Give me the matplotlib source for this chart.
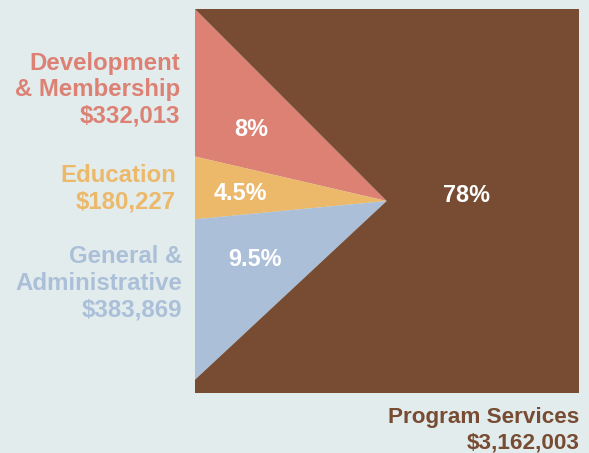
import matplotlib
matplotlib.use("Agg")
import matplotlib.pyplot as plt

# ---- data ----
categories = ["Development & Membership", "Education", "General & Administrative", "Program Services"]
amounts = [332013, 180227, 383869, 3162003]
pct_labels = ["8%", "4.5%", "9.5%", "78%"]
side_labels = ["Development\n& Membership\n$332,013", "Education\n$180,227",
               "General &\nAdministrative\n$383,869", "Program Services\n$3,162,003"]
colors = ["#dc8174", "#ecb96a", "#abc0d8", "#774c33"]
bg = "#e2eced"

W, H = 589, 453
fig = plt.figure(figsize=(W / 100, H / 100), dpi=100, facecolor=bg)
plt.rcParams['font.family'] = ['Liberation Sans', 'DejaVu Sans']

def fx(x):
    return x / W

def fy(y):
    return 1 - y / H

# square region (pixels)
left, top, right, bottom = 195, 9, 579, 393
cx, cy = 386.7, 201.0
sx = 191.7
sy = sx * 1.162

ax = fig.add_axes([fx(left), fy(bottom), (right - left) / W, (bottom - top) / H])
wedges, _ = ax.pie(amounts, colors=colors, startangle=139.25, counterclock=True, radius=3,
                   wedgeprops=dict(linewidth=0))
ax.set_aspect('auto')
ax.set_xlim(-(cx - left) / sx, (right - cx) / sx)
ax.set_ylim(-(bottom - cy) / sy, (cy - top) / sy)
ax.set_axis_off()
for w in wedges:
    w.set_clip_on(True)
    w.set_clip_box(ax.bbox)

# percentage labels inside wedges
pct_pos = [(251, 130), (240.5, 193), (255, 259), (467, 196)]
for t, (x, y) in zip(pct_labels, pct_pos):
    fig.text(fx(x), fy(y), t, color="white", fontsize=16.8, fontweight="bold",
             ha="center", va="center")

# side labels (each line placed at its baseline)
side_pos = [(180, 70), (176, 182), (182, 263), (579.5, 423)]
side_fs = [17.3, 17.3, 17.3, 16.2]
side_lh = [26.3, 26.3, 26.8, 25.5]
for t, c, (x, y0), fs, lh in zip(side_labels, colors, side_pos, side_fs, side_lh):
    for i, line in enumerate(t.split("\n")):
        fig.text(fx(x), fy(y0 + i * lh), line, color=c, fontsize=fs, fontweight="bold",
                 ha="right", va="baseline")

fig.savefig("out.png", dpi=100, facecolor=bg)
